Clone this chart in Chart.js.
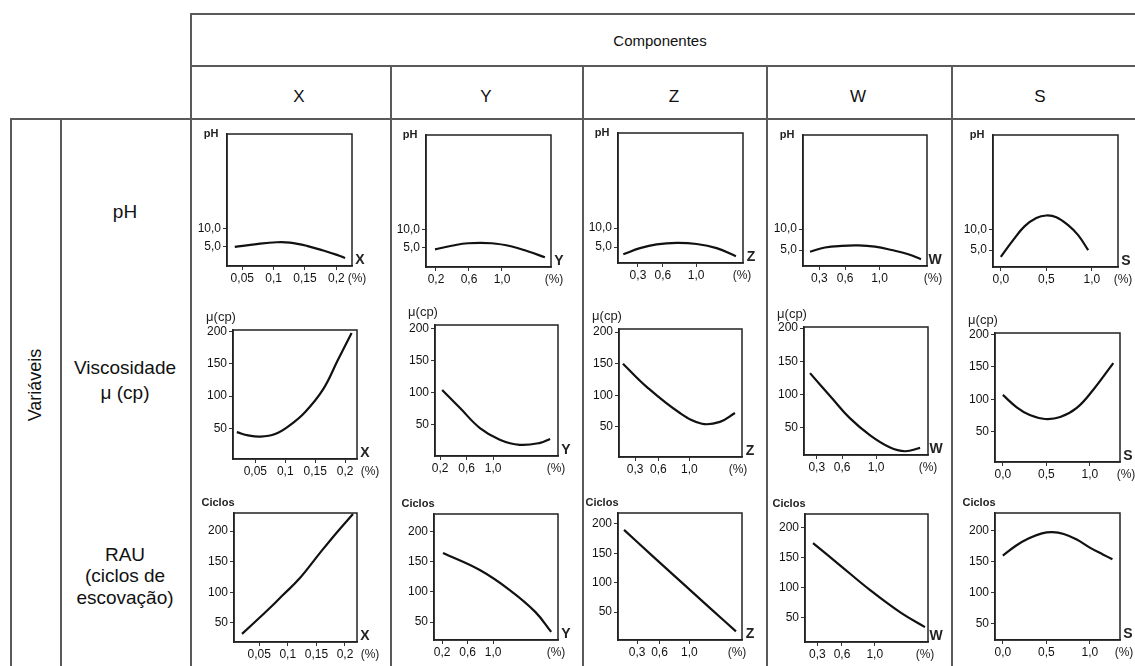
<!DOCTYPE html>
<html><head><meta charset="utf-8">
<script src="https://cdn.jsdelivr.net/npm/chart.js@4.4.0/dist/chart.umd.min.js"></script>
<style>
html,body{margin:0;padding:0;background:#fff;}
#wrap{position:relative;width:1135px;height:666px;overflow:hidden;font-family:"Liberation Sans",Arial,sans-serif;color:#111;}
.hl{position:absolute;height:1.5px;background:#5a5a5a;}
.vl{position:absolute;width:1.5px;background:#5a5a5a;}
.t{position:absolute;transform:translate(-50%,-50%);white-space:nowrap;}
canvas{position:absolute;}
</style></head><body><div id="wrap"></div>
<script>
// ---------- DATA ----------
const components = ['X','Y','Z','W','S'];
const headerTitle = 'Componentes';
const groupLabel = 'Variáveis';
const variableLabels = [['pH'],['Viscosidade','μ (cp)'],['RAU','(ciclos de','escovação)']];
const yTitles = ['pH','μ(cp)','Ciclos'];

const phTicks = [5,10];
const phTickLabels = ['5,0','10,0'];
const viscTicks = [50,100,150,200];
const viscTickLabels = ['50','100','150','200'];
const rauTicks = [50,100,150,200];
const rauTickLabels = ['50','100','150','200'];

const xTicksX = [0.05,0.1,0.15,0.2];
const xTickLabelsX = ['0,05','0,1','0,15','0,2'];
const xTicksY = [0.2,0.6,1.0];
const xTickLabelsY = ['0,2','0,6','1,0'];
const xTicksZ = [0.3,0.6,1.0];
const xTickLabelsZ = ['0,3','0,6','1,0'];
const xTicksW = [0.3,0.6,1.0];
const xTickLabelsW = ['0,3','0,6','1,0'];
const xTicksS = [0.0,0.5,1.0];
const xTickLabelsS = ['0,0','0,5','1,0'];

// pH row
const phX_x = [0.038,0.073,0.105,0.126,0.153,0.179,0.201,0.214];
const phX_y = [5.0,5.8,6.3,6.2,5.3,4.0,2.8,1.9];
const phY_x = [0.188,0.39,0.59,0.875,1.12,1.32,1.52];
const phY_y = [4.6,5.6,6.3,6.3,5.4,4.0,2.4];
const phZ_x = [0.124,0.325,0.525,0.766,1.006,1.246,1.478];
const phZ_y = [3.1,4.7,5.7,6.1,5.8,4.7,2.6];
const phW_x = [0.191,0.365,0.56,0.753,0.947,1.142,1.335,1.483];
const phW_y = [4.6,5.6,6.0,6.1,5.8,5.0,4.0,2.8];
const phS_x = [0.0,0.135,0.26,0.39,0.5,0.61,0.74,0.85,0.96];
const phS_y = [3.4,7.4,10.7,12.7,13.3,12.9,11.0,8.6,5.0];

// Viscosity row
const viscX_x = [0.019,0.038,0.058,0.083,0.108,0.133,0.163,0.188,0.211];
const viscX_y = [44,39,37,41,55,75,110,156,198];
const viscY_x = [0.23,0.5,0.8,1.1,1.4,1.71,1.86];
const viscY_y = [104,76,45,27,19,22,28];
const viscZ_x = [0.142,0.452,0.878,1.163,1.395,1.589];
const viscZ_y = [150,113,72,55,58,72];
const viscW_x = [0.22,0.48,0.69,0.93,1.16,1.34,1.52];
const viscW_y = [132,94,64,38,20,14,19];
const viscS_x = [0.0,0.16,0.31,0.485,0.66,0.85,1.04,1.27];
const viscS_y = [107,88,76,70,73,87,115,156];

// RAU row
const rauX_x = [0.02,0.05,0.075,0.092,0.12,0.156,0.185,0.214];
const rauX_y = [32,58,80,96,122,164,197,228];
const rauY_x = [0.213,0.79,1.26,1.66,1.91];
const rauY_y = [164,136,103,67,34];
const rauZ_x = [0.124,0.5,0.9,1.3,1.625];
const rauZ_y = [190,146,100,54,17];
const rauW_x = [0.247,0.576,0.94,1.307,1.612];
const rauW_y = [174,137,96,59,34];
const rauS_x = [0.0,0.15,0.3,0.45,0.57,0.7,0.85,1.0,1.15,1.26];
const rauS_y = [160,176,188,196,198,195,186,173,162,154];

// ---------- LAYOUT (positions / ranges) ----------
const xTickSets = [[xTicksX,xTickLabelsX],[xTicksY,xTickLabelsY],[xTicksZ,xTickLabelsZ],[xTicksW,xTickLabelsW],[xTicksS,xTickLabelsS]];
const yTickSets = [[phTicks,phTickLabels],[viscTicks,viscTickLabels],[rauTicks,rauTickLabels]];
const series = [
  [[phX_x,phX_y],[phY_x,phY_y],[phZ_x,phZ_y],[phW_x,phW_y],[phS_x,phS_y]],
  [[viscX_x,viscX_y],[viscY_x,viscY_y],[viscZ_x,viscZ_y],[viscW_x,viscW_y],[viscS_x,viscS_y]],
  [[rauX_x,rauX_y],[rauY_x,rauY_y],[rauZ_x,rauZ_y],[rauW_x,rauW_y],[rauS_x,rauS_y]]
];
// [L,T,R,B,xmin,xmax,ymin,ymax,pctDx]
const boxes = [
  [[227,134,352,266,0.0256,0.225,-0.3,36.4,5],[426,135,551,267,0.079,1.594,-0.3,36.4,3],[618,133,743,263,0.06,1.563,0.8,35,-1],[803,135,927,266,0.109,1.553,1.2,32.4,6],[993,135,1118,267,-0.086,1.288,0.95,32.6,5]],
  [[233,330,357,459,0.0126,0.22,2.3,202.6,13],[435,325,558,456,0.122,1.979,1.6,205,-2],[619,329,742,457,0.091,1.68,2.4,204.9,-4],[804,327,928,455,0.149,1.613,8.3,201.7,0],[995,333,1120,462,-0.09,1.347,3.8,202.3,6]],
  [[234,513,357,642,0.006,0.221,18.8,229.6,13],[434,514,558,640,0.072,2.017,20.6,228.5,-2],[618,513,742,640,0.043,1.706,2.3,218.7,-5],[805,514,928,642,0.149,1.649,9.2,222.5,-3],[995,513,1120,640,-0.09,1.347,23.5,229,4]]
];
const titleOffsets = [[-16,0,'bold 11px "Liberation Sans"'],[-12,-13,'13px "Liberation Sans"'],[-16,-10,'bold 11px "Liberation Sans"']];

const wrap = document.getElementById('wrap');
function hl(x1,x2,y){const d=document.createElement('div');d.className='hl';d.style.left=x1+'px';d.style.width=(x2-x1)+'px';d.style.top=y+'px';wrap.appendChild(d);}
function vl(x,y1,y2){const d=document.createElement('div');d.className='vl';d.style.left=x+'px';d.style.top=y1+'px';d.style.height=(y2-y1)+'px';wrap.appendChild(d);}
function txt(s,x,y,size,extra){const d=document.createElement('div');d.className='t';d.textContent=s;d.style.left=x+'px';d.style.top=y+'px';d.style.fontSize=size+'px';if(extra)Object.assign(d.style,extra);wrap.appendChild(d);}

hl(190,1135,13); hl(190,1135,65); hl(10,1135,118);
vl(190,13,666); [390,582,766,951].forEach(x=>vl(x,65,666)); vl(10,118,666); vl(60,118,666);

txt(headerTitle,660,40,15);
const colX=[299,486,674,858,1040];
components.forEach((c,i)=>txt(c,colX[i],97,17));
txt(groupLabel,35,385,18,{transform:'translate(-50%,-50%) rotate(-90deg)'});
const rowLabelY=[[212],[368,393],[555,576,598]];
variableLabels.forEach((lines,r)=>lines.forEach((s,k)=>txt(s,125,rowLabelY[r][k],19)));

Chart.defaults.font.family='"Liberation Sans", Arial, sans-serif';

const boxPlugin = {
  id:'boxPlugin',
  afterDraw(chart,args,o){
    const {ctx,chartArea:a}=chart;
    ctx.save();
    ctx.strokeStyle='#222';ctx.lineWidth=1.5;
    ctx.strokeRect(a.left,a.top,a.right-a.left,a.bottom-a.top);
    ctx.fillStyle='#222';ctx.textAlign='center';ctx.textBaseline='middle';
    ctx.font=o.titleFont;ctx.fillText(o.title,a.left+o.titleDx,a.top+o.titleDy);
    ctx.font='bold 14px "Liberation Sans"';ctx.fillText(o.name,a.right+8,a.bottom-6);
    ctx.font='12px "Liberation Sans"';ctx.fillText('(%)',a.right+o.pctDx,a.bottom+13);
    ctx.restore();
  }
};

const PADL=45,PADT=25,PADR=35,PADB=30;
for(let r=0;r<3;r++){
  for(let c=0;c<5;c++){
    const [L,T,R,B,xmin,xmax,ymin,ymax,pctDx]=boxes[r][c];
    const cv=document.createElement('canvas');
    const W=(R-L)+PADL+PADR, H=(B-T)+PADT+PADB;
    cv.width=W;cv.height=H;cv.style.width=W+'px';cv.style.height=H+'px';
    cv.style.left=(L-PADL)+'px';cv.style.top=(T-PADT)+'px';
    wrap.appendChild(cv);
    const [xs,ys]=series[r][c];
    const [xt,xtl]=xTickSets[c];
    const [yt,ytl]=yTickSets[r];
    new Chart(cv,{
      type:'line',
      data:{datasets:[{data:xs.map((x,i)=>({x:x,y:ys[i]})),borderColor:'#111',borderWidth:2.2,pointRadius:0,tension:0.4,fill:false}]},
      options:{
        responsive:false,animation:false,devicePixelRatio:1,
        layout:{padding:{left:0,top:PADT,right:PADR,bottom:0}},
        plugins:{legend:{display:false},tooltip:{enabled:false},
          boxPlugin:{title:yTitles[r],titleDx:titleOffsets[r][0],titleDy:titleOffsets[r][1],titleFont:titleOffsets[r][2],name:components[c],pctDx:pctDx}},
        scales:{
          x:{type:'linear',min:xmin,max:xmax,
            afterFit:s=>{s.height=PADB;},
            afterBuildTicks:s=>{s.ticks=xt.map(v=>({value:v}));},
            ticks:{autoSkip:false,maxRotation:0,padding:1,color:'#111',font:{size:12},callback:(v,i)=>xtl[i]},
            grid:{display:true,drawOnChartArea:false,drawTicks:true,tickLength:4,color:'#333'},
            border:{display:true,color:'#222',width:1.5}},
          y:{type:'linear',min:ymin,max:ymax,
            afterFit:s=>{s.width=PADL;},
            afterBuildTicks:s=>{s.ticks=yt.map(v=>({value:v}));},
            ticks:{autoSkip:false,padding:2,color:'#111',font:{size:12},callback:(v,i)=>ytl[i]},
            grid:{display:true,drawOnChartArea:false,drawTicks:true,tickLength:4,color:'#333'},
            border:{display:true,color:'#222',width:1.5}}
        }
      },
      plugins:[boxPlugin]
    });
  }
}
</script></body></html>
